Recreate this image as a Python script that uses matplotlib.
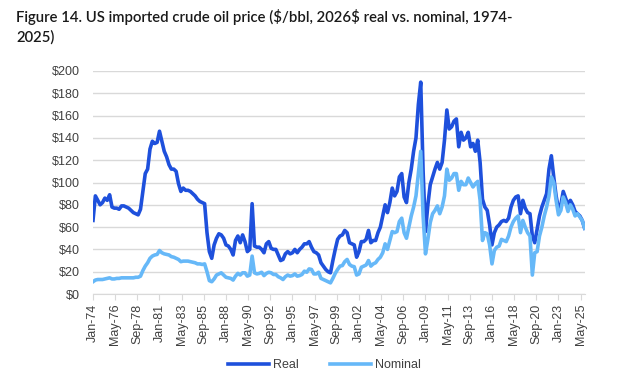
import numpy as np
import pandas as pd
import matplotlib
matplotlib.use("Agg")
import matplotlib.pyplot as plt
from matplotlib.ticker import FuncFormatter

# quarterly samples (Jan, Apr, Jul, Oct of each year)
dates = pd.date_range("1974-01-01", "2025-10-01", freq="QS")

real = [
    66, 88, 84, 80,      # 1974
    82, 86, 84, 89,      # 1975
    78, 77, 77, 76,      # 1976
    79, 79, 78, 77,      # 1977
    75, 73, 72, 71,      # 1978
    76, 92, 108, 112,    # 1979
    130, 137, 135, 136,  # 1980
    146, 137, 128, 123,  # 1981
    116, 112, 112, 110,  # 1982
    99, 92, 95, 93,      # 1983
    93, 92, 90, 88,      # 1984
    85, 83, 82, 81,      # 1985
    55, 38, 32, 44,      # 1986
    50, 54, 53, 50,      # 1987
    44, 43, 40, 35,      # 1988
    48, 52, 46, 53,      # 1989
    47, 38, 40, 81,      # 1990
    43, 42, 42, 40,      # 1991
    37, 45, 47, 41,      # 1992
    40, 40, 35, 30,      # 1993
    31, 36, 38, 36,      # 1994
    37, 40, 37, 40,      # 1995
    42, 45, 45, 47,      # 1996
    42, 38, 37, 35,      # 1997
    28, 25, 22, 20,      # 1998
    19, 30, 40, 49,      # 1999
    52, 53, 57, 55,      # 2000
    46, 45, 44, 33,      # 2001
    38, 47, 47, 49,      # 2002
    57, 46, 48, 48,      # 2003
    55, 60, 70, 80,      # 2004
    73, 82, 95, 88,      # 2005
    92, 105, 108, 87,    # 2006
    82, 100, 112, 128,   # 2007
    140, 170, 190, 110,  # 2008
    56, 80, 98, 105,     # 2009
    112, 118, 112, 118,  # 2010
    138, 165, 148, 150,  # 2011
    155, 157, 132, 145,  # 2012
    138, 140, 145, 132,  # 2013
    135, 128, 138, 118,  # 2014
    85, 78, 75, 62,      # 2015
    44, 55, 60, 62,      # 2016
    65, 66, 65, 68,      # 2017
    78, 84, 87, 88,      # 2018
    72, 84, 77, 73,      # 2019
    72, 52, 46, 58,      # 2020
    70, 78, 84, 90,      # 2021
    112, 124, 105, 88,   # 2022
    76, 80, 92, 86,      # 2023
    80, 84, 80, 74,      # 2024
    72, 70, 66, 59,      # 2025
]

nominal = [
    11, 12.5, 13, 13,        # 1974
    13, 13.5, 14, 14.5,      # 1975
    13.5, 13.5, 14, 14,      # 1976
    14.5, 14.5, 14.5, 14.5,  # 1977
    14.5, 14.5, 15, 15,      # 1978
    16, 21, 25, 28,          # 1979
    32, 34, 35, 35.5,        # 1980
    39, 37, 36, 35.5,        # 1981
    35, 33.5, 33, 32,        # 1982
    31, 29, 29.5, 29.5,      # 1983
    29.5, 29, 28.5, 28,      # 1984
    27, 27, 26.5, 27,        # 1985
    20, 12, 11, 13.5,        # 1986
    17, 18, 19, 17,          # 1987
    15, 14.5, 14, 12.5,      # 1988
    16, 18.5, 17, 19,        # 1989
    19, 16, 17, 34,          # 1990
    19, 18, 18.5, 19.5,      # 1991
    16.5, 18.5, 19.5, 19,    # 1992
    17.5, 17.5, 15.5, 14.5,  # 1993
    13, 15.5, 17, 16,        # 1994
    16.5, 18, 16, 16.5,      # 1995
    17.5, 20.5, 19.5, 22.5,  # 1996
    22, 18, 18, 19.5,        # 1997
    14, 13, 12, 11,          # 1998
    10, 14, 18.5, 22,        # 1999
    25, 25.5, 29, 31,        # 2000
    26.5, 25, 24.5, 17,      # 2001
    18, 24, 25, 26,          # 2002
    30, 25, 27, 28,          # 2003
    31, 33, 37, 45,          # 2004
    40, 48, 56, 55,          # 2005
    56, 65, 68, 55,          # 2006
    50, 60, 70, 78,          # 2007
    88, 108, 128, 70,        # 2008
    36, 49, 64, 72,          # 2009
    75, 79, 72, 78,          # 2010
    88, 112, 102, 104,       # 2011
    108, 108, 93, 101,       # 2012
    98, 98, 104, 100,        # 2013
    96, 99, 101, 84,         # 2014
    48, 55, 54, 44,          # 2015
    27, 39, 42, 43,          # 2016
    49, 48, 47, 52,          # 2017
    60, 65, 68, 70,          # 2018
    55, 66, 60, 55,          # 2019
    52, 17, 37, 38,          # 2020
    52, 60, 70, 78,          # 2021
    88, 105, 100, 84,        # 2022
    71, 75, 87, 82,          # 2023
    74, 80, 76, 70,          # 2024
    72, 69, 66, 59,          # 2025
]

tick_labels = ["Jan-74", "May-76", "Sep-78", "Jan-81", "May-83", "Sep-85",
               "Jan-88", "May-90", "Sep-92", "Jan-95", "May-97", "Sep-99",
               "Jan-02", "May-04", "Sep-06", "Jan-09", "May-11", "Sep-13",
               "Jan-16", "May-18", "Sep-20", "Jan-23", "May-25"]

# month index from Jan-74
x = (dates.year - 1974) * 12 + (dates.month - 1)

plt.rcParams["font.family"] = ["Liberation Sans", "DejaVu Sans"]

fig = plt.figure(figsize=(6.39, 3.92), dpi=100)
ax = fig.add_axes([93 / 639, 1 - 294 / 392, 492 / 639, 223 / 392])

ax.plot(x, real, color="#1E50DC", lw=2.6, label="Real", solid_joinstyle="round")
ax.plot(x, nominal, color="#66B8F8", lw=2.6, label="Nominal", solid_joinstyle="round")

ax.set_ylim(0, 200)
ax.set_xlim(0, 621.5)
ax.set_yticks(np.arange(0, 201, 20))
ax.yaxis.set_major_formatter(FuncFormatter(lambda v, p: f"${v:.0f}"))
ax.grid(axis="y", color="#d9d9d9", lw=1)
ax.set_axisbelow(True)

ax.set_xticks(np.arange(len(tick_labels)) * 28)
ax.set_xticklabels(tick_labels, rotation=90)

for s in ["top", "right", "left"]:
    ax.spines[s].set_visible(False)
ax.spines["bottom"].set_color("#d9d9d9")
ax.tick_params(axis="y", length=0, pad=9.5, labelsize=9, labelcolor="#404040")
ax.tick_params(axis="x", length=4, color="#d9d9d9", pad=3, labelsize=9, labelcolor="#404040")

fig.text(16 / 639, 1 - 9 / 392,
         "Figure 14. US imported crude oil price (\\$/bbl, 2026\\$ real vs. nominal, 1974-\n2025)",
         ha="left", va="top", fontsize=10.7, fontweight="semibold", family="Lato",
         color="#1a1a1a", linespacing=1.5)

fig.legend(loc="center", bbox_to_anchor=(324 / 639, 1 - 365 / 392), ncol=2,
           frameon=False, fontsize=9, handlelength=3.3, columnspacing=2.5,
           handletextpad=0.3, labelcolor="#404040")

fig.savefig("out.png", dpi=100)
